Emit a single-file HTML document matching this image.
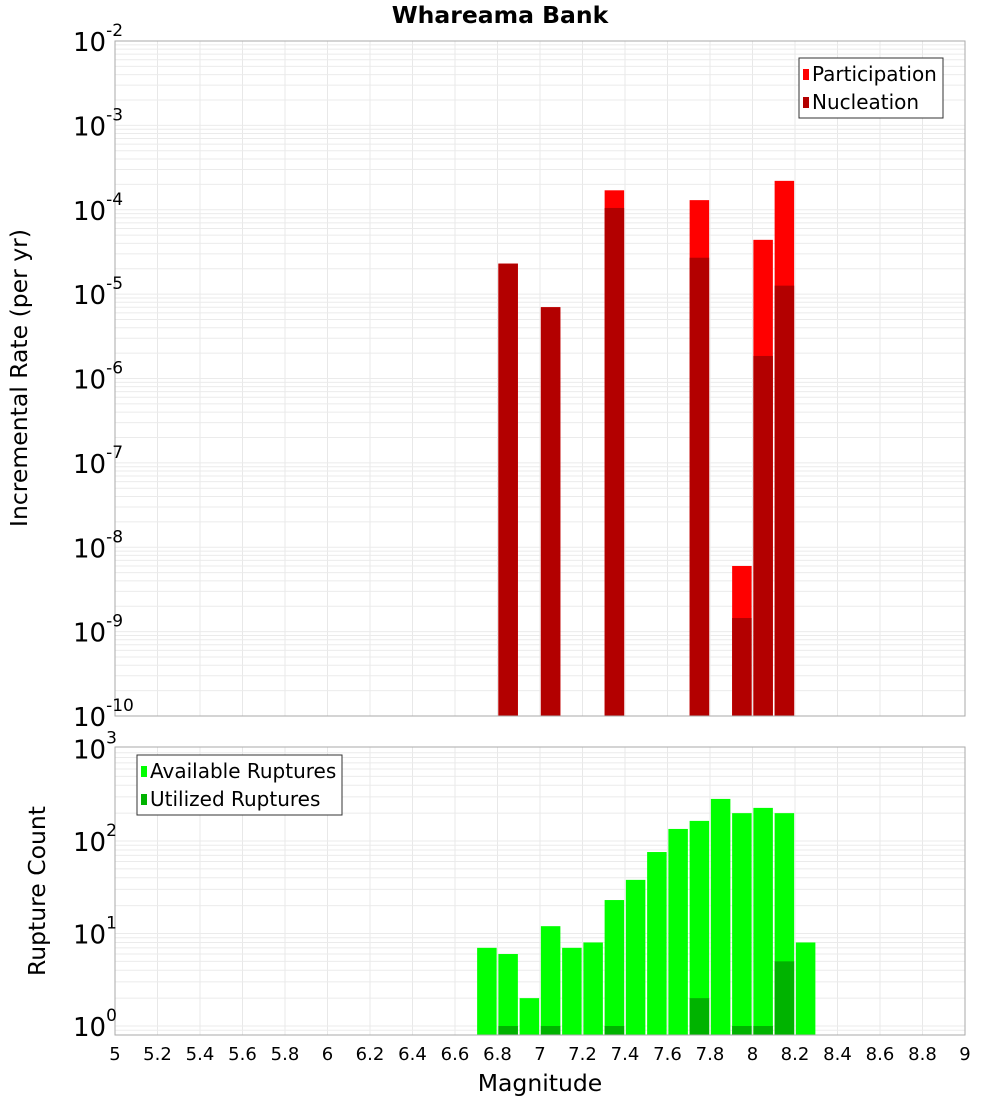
<!DOCTYPE html>
<html><head><meta charset="utf-8"><style>
body{margin:0;background:#fff;}
svg{display:block;font-family:"DejaVu Sans","Liberation Sans",sans-serif;}
</style></head><body>
<svg id="c" width="1000" height="1100"></svg>
<script>
const magBins = [6.85,7.05,7.35,7.75,7.95,8.05,8.15];
const participation = [2.3e-5,7e-6,1.7e-4,1.3e-4,6e-9,4.4e-5,2.2e-4];
const nucleation = [2.3e-5,7e-6,1.05e-4,2.7e-5,1.45e-9,1.85e-6,1.26e-5];
const countBins = [6.75,6.85,6.95,7.05,7.15,7.25,7.35,7.45,7.55,7.65,7.75,7.85,7.95,8.05,8.15,8.25];
const available = [7,6,2,12,7,8,23,38,76,135,165,285,200,228,200,8];
const utilBins = [6.85,7.05,7.35,7.75,7.95,8.05,8.15];
const utilized = [1,1,1,2,1,1,5];
const xTicks = [5,5.2,5.4,5.6,5.8,6,6.2,6.4,6.6,6.8,7,7.2,7.4,7.6,7.8,8,8.2,8.4,8.6,8.8,9];
const topExp = [-2,-3,-4,-5,-6,-7,-8,-9,-10];
const botExp = [3,2,1,0];

const NS='http://www.w3.org/2000/svg', svg=document.getElementById('c');
function el(t,a,p){const e=document.createElementNS(NS,t);for(const k in a)e.setAttribute(k,a[k]);(p||svg).appendChild(e);return e;}
const L=115,R=965;
const x=m=>L+(m-5)/4*(R-L);
const T1=41,B1=716, yTop=v=>T1+(-2-Math.log10(v))*(B1-T1)/8;
const T2=747,B2=1035, dec2=92.5, y0=1026, yBot=v=>y0-Math.log10(v)*dec2;
const bw=19.5;

function grid(T,B,yf,lo,hi,name){
  const g=el('g',{});  
  for(let m=5;m<=9.001;m+=0.2){el('line',{x1:x(m),x2:x(m),y1:T,y2:B,stroke:'#e8e8e8'},g);}
  for(let e=lo;e<hi;e++)for(let k=1;k<10;k++){const yy=yf(k*Math.pow(10,e));if(yy>=T&&yy<=B)el('line',{x1:L,x2:R,y1:yy,y2:yy,stroke:'#ebebeb'},g);}
}
grid(T1,B1,yTop,-10,-2,'top');
grid(T2,B2,yBot,-1,3,'bottom');

magBins.forEach((m,i)=>{
  const r=el('rect',{x:x(m)-bw/2,y:yTop(participation[i]),width:bw,height:B1-yTop(participation[i]),fill:'#ff0000'});
   
  const n=el('rect',{x:x(m)-bw/2,y:yTop(nucleation[i]),width:bw,height:B1-yTop(nucleation[i]),fill:'#b30000'});
   
});
countBins.forEach((m,i)=>{
  const r=el('rect',{x:x(m)-bw/2,y:yBot(available[i]),width:bw,height:B2-yBot(available[i]),fill:'#00ff00'});
   
});
utilBins.forEach((m,i)=>{
  const r=el('rect',{x:x(m)-bw/2,y:yBot(utilized[i]),width:bw,height:B2-yBot(utilized[i]),fill:'#00b300'});
   
});
el('rect',{x:L,y:T1,width:R-L,height:B1-T1,fill:'none',stroke:'#aaa'});
el('rect',{x:L,y:T2,width:R-L,height:B2-T2,fill:'none',stroke:'#aaa'});

function ylab(yy,e,name){
  const t=el('text',{x:73,y:yy+10,'font-size':26,fill:'#000'});
   
  t.textContent='10';
  const s=el('tspan',{dy:-15,'font-size':17},t); s.textContent=String(e);
}
topExp.forEach(e=>ylab(yTop(Math.pow(10,e)),e,'top-y-tick'));
botExp.forEach(e=>ylab(yBot(Math.pow(10,e)),e,'bottom-y-tick'));
xTicks.forEach(m=>{
  const t=el('text',{x:x(m),y:1060,'font-size':18,'text-anchor':'middle'});
   
  t.textContent=String(m);
});
function txt(s,a,name){const t=el('text',a);t.textContent=s;return t;}
txt('Whareama Bank',{x:500,y:23,'font-size':23.5,'font-weight':'bold','text-anchor':'middle'},'chart-title');
txt('Magnitude',{x:540,y:1091,'font-size':23.5,'text-anchor':'middle'},'x-axis-title');
txt('Incremental Rate (per yr)',{x:0,y:0,'font-size':23.5,'text-anchor':'middle',transform:'translate(27,378) rotate(-90)'},'top-y-axis-title');
txt('Rupture Count',{x:0,y:0,'font-size':23.5,'text-anchor':'middle',transform:'translate(45,891) rotate(-90)'},'bottom-y-axis-title');

function legend(x0,y0,w,items,name){
  const g=el('g',{});  
  el('rect',{x:x0,y:y0,width:w,height:60,fill:'#fff',stroke:'#333'},g);
  items.forEach((it,i)=>{
    el('rect',{x:x0+4,y:y0+11+i*28,width:6,height:11,fill:it[1]},g);
    const t=el('text',{x:x0+13,y:y0+23+i*28,'font-size':20},g); t.textContent=it[0];
  });
}
legend(799,58,144,[['Participation','#ff0000'],['Nucleation','#b30000']],'top-legend');
legend(137,755,205,[['Available Ruptures','#00ff00'],['Utilized Ruptures','#00b300']],'bottom-legend');
</script>
</body></html>
